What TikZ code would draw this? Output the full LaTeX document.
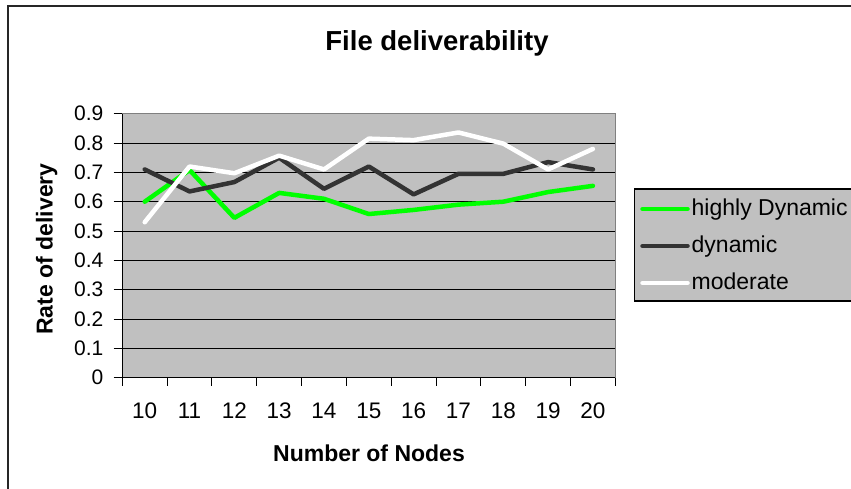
\documentclass[tikz,border=0pt]{standalone}
\usepackage{fontspec}
\setmainfont{Liberation Sans}
\definecolor{plotgray}{HTML}{C0C0C0}
\definecolor{bordergray}{HTML}{808080}
\definecolor{dyn}{HTML}{333333}
\definecolor{hdyn}{HTML}{00FF00}
\begin{document}
\begin{tikzpicture}[x=1pt,y=-1pt,
  series/.style={line width=4.5pt, line join=round, line cap=round},
  gridline/.style={line width=0.9pt, black},
  tickmark/.style={line width=0.9pt, black},
  yticklab/.style={anchor=east, inner sep=0pt, font=\fontsize{21}{21}\selectfont},
  xticklab/.style={anchor=base, inner sep=0pt, font=\fontsize{22.5}{22.5}\selectfont},
  axislab/.style={anchor=base, inner sep=0pt, font=\fontsize{23}{23}\selectfont\bfseries},
  legtext/.style={anchor=base west, inner sep=0pt, font=\fontsize{23}{23}\selectfont}]
\useasboundingbox[fill=white] (0,0) rectangle (851,488);
% outer frame
\draw[line width=2pt, black!85] (8,6) rectangle (880,510);
% title
\node[anchor=base, inner sep=0pt, font=\fontsize{27.5}{30}\selectfont\bfseries] (title) at (437,50) {File deliverability};
% plot area
\fill[plotgray] (122.3,113.7) rectangle (615.3,377.7);
\foreach \k in {1,...,8}
  \draw[gridline] (122.3,{377.7-\k*29.333}) -- (615.3,{377.7-\k*29.333});
\draw[bordergray, line width=1.2pt] (122.3,113.7) -- (615.3,113.7) -- (615.3,377.7);
\draw[black, line width=1pt] (122.3,113.7) -- (122.3,377.7) -- (615.3,377.7);
% y ticks and labels
\foreach \k in {0,...,9}{
  \draw[tickmark] (113.5,{377.7-\k*29.333}) -- (122.3,{377.7-\k*29.333});
  \node[yticklab] (yl\k) at (103.5,{377.7-\k*29.333}) {\ifnum\k=0 0\else 0.\k\fi};
}
% x ticks and labels
\foreach \k in {0,...,11}
  \draw[tickmark] ({122.3+\k*44.82},377.7) -- ({122.3+\k*44.82},385.5);
\foreach \n [count=\k from 0] in {10,...,20}
  \node[xticklab] (xl\n) at ({122.3+(\k+0.5)*44.82},418.3) {\n};
% axis titles
\node[axislab] (xtitle) at (369,461) {Number of Nodes};
\node[axislab, rotate=90] (ytitle) at (52.5,249) {Rate of delivery};
% data series
\begin{scope}[shift={(122.3,377.7)}, x=44.82pt, y=293.33pt]
  \draw[series, hdyn] (0.5,0.600) -- (1.5,0.708) -- (2.5,0.545) -- (3.5,0.630) -- (4.5,0.610) -- (5.5,0.558) -- (6.5,0.572) -- (7.5,0.590) -- (8.5,0.600) -- (9.5,0.633) -- (10.5,0.654);
  \draw[series, dyn] (0.5,0.710) -- (1.5,0.635) -- (2.5,0.667) -- (3.5,0.750) -- (4.5,0.644) -- (5.5,0.720) -- (6.5,0.625) -- (7.5,0.695) -- (8.5,0.695) -- (9.5,0.735) -- (10.5,0.710);
  \draw[series, white] (0.5,0.530) -- (1.5,0.720) -- (2.5,0.697) -- (3.5,0.757) -- (4.5,0.710) -- (5.5,0.815) -- (6.5,0.810) -- (7.5,0.836) -- (8.5,0.798) -- (9.5,0.710) -- (10.5,0.780);
\end{scope}
% legend
\draw[fill=plotgray, draw=black, line width=1.2pt] (634.5,189) rectangle (880,301);
\draw[series, hdyn] (642.5,209) -- (687.5,209);
\draw[series, dyn] (642.5,246) -- (687.5,246);
\draw[series, white] (642.5,283) -- (687.5,283);
\node[legtext] (lg1) at (691.5,215) {highly Dynamic};
\node[legtext] (lg2) at (691.5,252.5) {dynamic};
\node[legtext] (lg3) at (691.5,289.5) {moderate};
\end{tikzpicture}
\end{document}
